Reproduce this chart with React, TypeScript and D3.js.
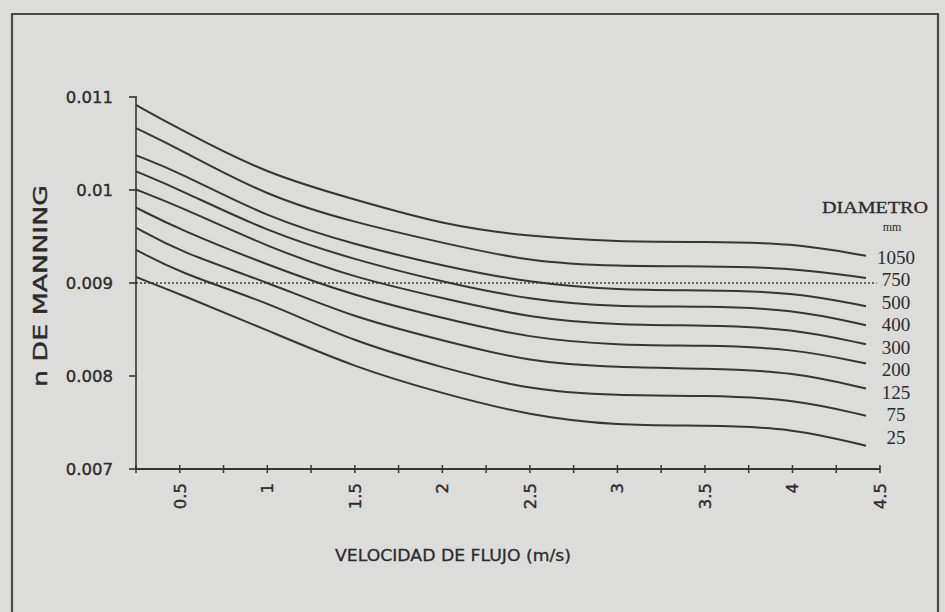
import React from 'react';
import * as d3 from 'd3';

// velocity sample points (m/s)
const velocities = [0.25, 0.5, 1, 1.5, 2, 2.5, 3, 3.5, 4, 4.42];

// Manning n per pipe diameter (mm)
const diameters = ['1050', '750', '500', '400', '300', '200', '125', '75', '25'];
const n1050 = [0.010914, 0.010654, 0.010168, 0.009897, 0.009627, 0.009497, 0.009443, 0.009443, 0.009432, 0.009292];
const n750 = [0.010665, 0.010438, 0.009930, 0.009649, 0.009432, 0.009227, 0.009180, 0.009180, 0.009165, 0.009054];
const n500 = [0.010373, 0.010189, 0.009703, 0.009411, 0.009184, 0.009000, 0.008924, 0.008924, 0.008903, 0.008751];
const n400 = [0.010200, 0.010005, 0.009551, 0.009249, 0.009011, 0.008816, 0.008741, 0.008751, 0.008719, 0.008546];
const n300 = [0.010005, 0.009822, 0.009389, 0.009054, 0.008838, 0.008622, 0.008546, 0.008546, 0.008514, 0.008341];
const n200 = [0.009811, 0.009573, 0.009195, 0.008859, 0.008622, 0.008405, 0.008330, 0.008330, 0.008297, 0.008135];
const n125 = [0.009595, 0.009335, 0.009011, 0.008622, 0.008384, 0.008146, 0.008092, 0.008081, 0.008049, 0.007865];
const n75 = [0.009357, 0.009108, 0.008795, 0.008362, 0.008092, 0.007843, 0.007789, 0.007789, 0.007757, 0.007573];
const n25 = [0.009065, 0.008881, 0.008492, 0.008092, 0.007811, 0.007573, 0.007465, 0.007470, 0.007443, 0.007249];
const seriesValues = [n1050, n750, n500, n400, n300, n200, n125, n75, n25];

// axes
const xTicks = [0.25, 0.5, 0.75, 1, 1.25, 1.5, 1.75, 2, 2.25, 2.5, 2.75, 3, 3.25, 3.5, 3.75, 4, 4.25, 4.5];
const xTickLabels = ['0.5', '1', '1.5', '2', '2.5', '3', '3.5', '4', '4.5'];
const yTicks = [0.007, 0.008, 0.009, 0.01, 0.011];
const yTickLabels = ['0.007', '0.008', '0.009', '0.01', '0.011'];
const referenceN = 0.009;

const W = 945;
const H = 612;

export default function App() {
  const x = d3.scaleLinear().domain([0.25, 4.5]).range([136, 880]);
  const y = d3.scaleLinear().domain([0.007, 0.011]).range([469, 97]);
  const line = d3
    .line<[number, number]>()
    .x((d) => x(d[0]))
    .y((d) => y(d[1]))
    .curve(d3.curveBasis);

  const labelY = d3.scalePoint<string>().domain(diameters).range([257, 437]);

  const ink = '#353535';
  const txt = '#2b2b2b';
  const sans = 'DejaVu Sans, Verdana, sans-serif';
  const serif = 'Liberation Serif, Times New Roman, serif';

  return (
    <svg
      width={W}
      height={H}
      style={{ position: 'absolute', left: 0, top: 0, background: '#dcdddb' }}
    >
      <rect x={0} y={0} width={W} height={H} fill="#dcdddb" />
      {/* frame */}
      <path d={`M12,${H} V14 H938 V${H}`} fill="none" stroke="#4a4a4a" strokeWidth={2.2} />

      {/* reference dotted line */}
      <line
        x1={x(0.25)}
        x2={x(4.48)}
        y1={y(referenceN)}
        y2={y(referenceN)}
        stroke="#404040"
        strokeWidth={1.6}
        strokeDasharray="2,2"
      />

      {/* curves */}
      {seriesValues.map((vals, i) => (
        <path
          key={diameters[i]}
          d={line(velocities.map((v, j) => [v, vals[j]] as [number, number])) || ''}
          fill="none"
          stroke={ink}
          strokeWidth={2}
        />
      ))}

      {/* y axis */}
      <line x1={x(0.25)} x2={x(0.25)} y1={y(0.011)} y2={y(0.007)} stroke={ink} strokeWidth={1.6} />
      {yTicks.map((t, i) => (
        <g key={t}>
          <line x1={x(0.25) - 7} x2={x(0.25) + 1} y1={y(t)} y2={y(t)} stroke={ink} strokeWidth={1.6} />
          <text
            x={113}
            y={y(t)}
            dy="0.35em"
            textAnchor="end"
            fontFamily={sans}
            fontSize={16.5}
            fill={txt}
            stroke={txt}
            strokeWidth={0.35}
          >
            {yTickLabels[i]}
          </text>
        </g>
      ))}

      {/* x axis */}
      <line x1={x(0.25)} x2={x(4.5)} y1={y(0.007)} y2={y(0.007)} stroke={ink} strokeWidth={1.8} />
      {xTicks.map((t) => (
        <line key={t} x1={x(t)} x2={x(t)} y1={y(0.007) - 4} y2={y(0.007) + 4} stroke={ink} strokeWidth={1.5} />
      ))}
      {xTickLabels.map((lab) => {
        const px = x(+lab);
        const py = 483;
        return (
          <text
            key={lab}
            transform={`translate(${px},${py}) rotate(-90)`}
            dy="0.36em"
            textAnchor="end"
            fontFamily={sans}
            fontSize={16.5}
            fill={txt}
            stroke={txt}
            strokeWidth={0.35}
          >
            {lab}
          </text>
        );
      })}

      {/* axis titles */}
      <text
        transform={`translate(40,286) rotate(-90)`}
        dy="0.36em"
        textAnchor="middle"
        fontFamily={sans}
        fontSize={20}
        textLength={202}
        lengthAdjust="spacingAndGlyphs"
        fill={txt}
        stroke={txt}
        strokeWidth={0.4}
      >
        n DE MANNING
      </text>
      <text
        x={453}
        y={561}
        textAnchor="middle"
        fontFamily={sans}
        fontSize={16.5}
        textLength={236}
        lengthAdjust="spacingAndGlyphs"
        fill={txt}
        stroke={txt}
        strokeWidth={0.3}
      >
        VELOCIDAD DE FLUJO (m/s)
      </text>

      {/* diameter legend */}
      <text
        x={875}
        y={213}
        textAnchor="middle"
        fontFamily={serif}
        fontSize={17}
        textLength={106}
        lengthAdjust="spacingAndGlyphs"
        fill={txt}
        stroke={txt}
        strokeWidth={0.3}
      >
        DIAMETRO
      </text>
      <text x={892} y={231} textAnchor="middle" fontFamily={serif} fontSize={12} fill={txt}>
        mm
      </text>
      {diameters.map((d) => (
        <text
          key={d}
          x={896}
          y={labelY(d)}
          dy="0.35em"
          textAnchor="middle"
          fontFamily={serif}
          fontSize={19}
          fill={txt}
        >
          {d}
        </text>
      ))}
    </svg>
  );
}
